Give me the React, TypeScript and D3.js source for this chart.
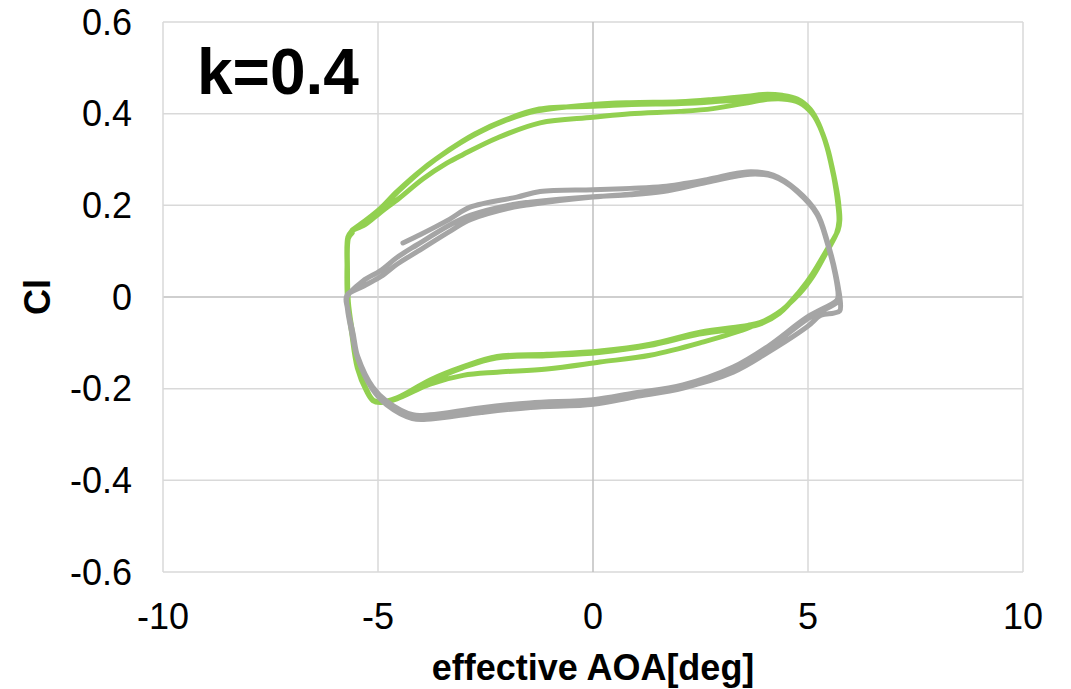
import React from "react";
import * as d3 from "d3";

// Axis setup
const xTicks = [-10, -5, 0, 5, 10];
const yTicks = [-0.6, -0.4, -0.2, 0, 0.2, 0.4, 0.6];
const xTickLabels = ["-10", "-5", "0", "5", "10"];
const yTickLabels = ["-0.6", "-0.4", "-0.2", "0", "0.2", "0.4", "0.6"];

// Green series: three recorded cycles [effective AOA, Cl]
const greenCycle1: [number, number][] = [
  [-5.6, 0.146], [-5.35, 0.163], [-4.95, 0.193], [-4.56, 0.23], [-3.95, 0.28],
  [-3.4, 0.317], [-2.79, 0.352], [-2.09, 0.383], [-1.3, 0.406], [0, 0.42],
  [0.86, 0.424], [2.02, 0.426], [2.79, 0.431], [3.6, 0.438], [3.95, 0.442],
  [4.4, 0.44], [4.75, 0.432], [5.05, 0.41], [5.25, 0.378], [5.44, 0.327],
  [5.58, 0.271], [5.7, 0.212], [5.74, 0.168], [5.7, 0.146], [5.44, 0.103],
  [5.12, 0.052], [4.81, 0.013], [4.35, -0.033], [3.88, -0.056], [3.6, -0.062],
  [2.49, -0.077], [1.33, -0.103], [0.16, -0.118], [-1.07, -0.125], [-2.23, -0.13],
  [-3.02, -0.152], [-3.79, -0.181], [-4.56, -0.22], [-4.95, -0.229], [-5.12, -0.225],
  [-5.26, -0.203], [-5.47, -0.153], [-5.6, -0.079], [-5.7, -0.007], [-5.72, 0.065],
  [-5.7, 0.131], [-5.62, 0.143],
];
const greenCycle2: [number, number][] = [
  [-5.55, 0.148], [-5.3, 0.165], [-4.9, 0.196], [-4.5, 0.233], [-3.9, 0.283],
  [-3.35, 0.321], [-2.75, 0.356], [-2.05, 0.386], [-1.25, 0.41], [0, 0.416],
  [0.9, 0.42], [2.05, 0.422], [2.8, 0.426], [3.6, 0.432], [3.9, 0.437],
  [4.4, 0.435], [4.78, 0.427], [5.08, 0.404], [5.27, 0.372], [5.46, 0.322],
  [5.6, 0.266], [5.71, 0.207], [5.73, 0.166], [5.68, 0.142], [5.42, 0.1],
  [5.1, 0.05], [4.8, 0.011], [4.33, -0.036], [3.86, -0.06], [3.58, -0.066],
  [2.47, -0.081], [1.3, -0.106], [0.14, -0.121], [-1.1, -0.128], [-2.25, -0.133],
  [-3.05, -0.155], [-3.8, -0.184], [-4.56, -0.221], [-4.93, -0.23], [-5.1, -0.226],
  [-5.25, -0.206], [-5.46, -0.156], [-5.59, -0.08], [-5.69, -0.01], [-5.71, 0.062],
  [-5.69, 0.128], [-5.6, 0.145],
];
const greenCycle3: [number, number][] = [
  [-5.58, 0.146], [-5.3, 0.158], [-4.95, 0.184], [-4.5, 0.216], [-3.95, 0.258],
  [-3.4, 0.292], [-3.02, 0.311], [-2.23, 0.347], [-1.23, 0.38], [0, 0.392],
  [0.86, 0.4], [2.02, 0.405], [2.79, 0.411], [3.6, 0.424], [3.95, 0.43],
  [4.4, 0.432], [4.8, 0.424], [5.1, 0.4], [5.3, 0.366], [5.48, 0.316],
  [5.6, 0.262], [5.69, 0.206], [5.72, 0.165], [5.66, 0.138], [5.42, 0.096],
  [5.12, 0.046], [4.81, 0.008], [4.28, -0.036], [3.65, -0.066], [2.49, -0.1],
  [1.33, -0.127], [0.16, -0.142], [-1.07, -0.157], [-2.23, -0.164], [-3.02, -0.171],
  [-3.79, -0.19], [-4.56, -0.222], [-4.95, -0.23], [-5.12, -0.226], [-5.27, -0.205],
  [-5.48, -0.155], [-5.61, -0.08], [-5.71, -0.005], [-5.72, 0.07], [-5.69, 0.128],
  [-5.6, 0.14],
];

// Gray series: three recorded cycles [effective AOA, Cl]
const grayCycle1: [number, number][] = [
  [-4.42, 0.118], [-4.0, 0.137], [-3.33, 0.17], [-2.86, 0.196], [-1.77, 0.218],
  [-1.23, 0.23], [0, 0.234], [0.86, 0.237], [1.63, 0.241], [2.65, 0.256],
  [3.58, 0.273], [4.19, 0.266], [4.74, 0.233], [5.21, 0.183], [5.44, 0.124],
  [5.63, 0.052], [5.74, 0.0], [5.74, -0.03], [5.6, -0.035], [5.3, -0.04],
  [4.98, -0.065], [4.05, -0.122], [3.26, -0.164], [2.09, -0.198], [0.93, -0.216],
  [0, -0.231], [-1.47, -0.238], [-2.63, -0.249], [-3.79, -0.263], [-4.19, -0.263],
  [-4.79, -0.233], [-5.12, -0.2], [-5.47, -0.131], [-5.58, -0.079], [-5.7, -0.028],
  [-5.72, 0.0],
];
const grayCycle2: [number, number][] = [
  [-5.35, 0.035], [-4.95, 0.057], [-4.56, 0.086], [-4.09, 0.114], [-3.33, 0.157],
  [-2.86, 0.178], [-1.86, 0.202], [-1.47, 0.207], [0, 0.219], [0.86, 0.223],
  [1.63, 0.23], [2.65, 0.25], [3.65, 0.268], [4.19, 0.263], [4.74, 0.231],
  [5.21, 0.18], [5.44, 0.12], [5.63, 0.05], [5.7, 0.002], [5.67, -0.007],
  [4.98, -0.044], [4.05, -0.109], [3.26, -0.153], [2.09, -0.192], [0.93, -0.21],
  [0, -0.224], [-1.47, -0.231], [-2.63, -0.242], [-3.79, -0.257], [-4.19, -0.257],
  [-4.79, -0.228], [-5.12, -0.197], [-5.47, -0.13], [-5.6, -0.077], [-5.71, -0.025],
  [-5.73, 0.002],
];
const grayCycle3: [number, number][] = [
  [-5.33, 0.024], [-4.93, 0.045], [-4.55, 0.072], [-4.07, 0.1], [-3.3, 0.145],
  [-2.84, 0.169], [-1.84, 0.196], [-1.45, 0.202], [0, 0.218], [0.9, 0.225],
  [1.65, 0.232], [2.67, 0.252], [3.7, 0.27], [4.22, 0.264], [4.76, 0.229],
  [5.23, 0.178], [5.46, 0.118], [5.65, 0.048], [5.73, -0.002], [5.7, -0.01],
  [5.0, -0.047], [4.07, -0.113], [3.28, -0.158], [2.1, -0.199], [0.95, -0.218],
  [0.02, -0.234], [-1.45, -0.241], [-2.6, -0.252], [-3.77, -0.266], [-4.2, -0.265],
  [-4.8, -0.235], [-5.14, -0.2], [-5.48, -0.132], [-5.61, -0.078], [-5.71, -0.026],
  [-5.72, 0.004], [-5.4, 0.022],
];

const greenSeries = [...greenCycle1, ...greenCycle2, ...greenCycle3];
const graySeries = [...grayCycle1, ...grayCycle2, ...grayCycle3];

const W = 1071;
const H = 689;
const plot = { left: 163, right: 1023, top: 22, bottom: 572 };

export default function App() {
  const x = d3.scaleLinear().domain([-10, 10]).range([plot.left, plot.right]);
  const y = d3.scaleLinear().domain([-0.6, 0.6]).range([plot.bottom, plot.top]);
  const line = d3
    .line<[number, number]>()
    .x((d) => x(d[0]))
    .y((d) => y(d[1]))
    .curve(d3.curveCatmullRom.alpha(0.5));

  const font = "'Liberation Sans', Arial, sans-serif";

  return (
    <div style={{ position: "fixed", left: 0, top: 0 }}>
      <svg width={W} height={H} style={{ display: "block", background: "#fff" }}>
        {/* gridlines */}
        {yTicks.map((t) => (
          <line
            key={"gy" + t}
            x1={plot.left}
            x2={plot.right}
            y1={y(t)}
            y2={y(t)}
            stroke={t === 0 ? "#bfbfbf" : "#d9d9d9"}
            strokeWidth={1.5}
          />
        ))}
        {xTicks.map((t) => (
          <line
            key={"gx" + t}
            x1={x(t)}
            x2={x(t)}
            y1={plot.top}
            y2={plot.bottom}
            stroke={t === 0 ? "#bfbfbf" : "#d9d9d9"}
            strokeWidth={1.5}
          />
        ))}

        {/* series */}
        <path d={line(greenSeries) || ""} fill="none" stroke="#92d050" strokeWidth={5} strokeLinejoin="round" strokeLinecap="round" />
        <path d={line(graySeries) || ""} fill="none" stroke="#a5a5a5" strokeWidth={5} strokeLinejoin="round" strokeLinecap="round" />

        {/* tick labels */}
        {yTicks.map((t, i) => (
          <text key={"ly" + t} x={132} y={y(t) + 12.5} textAnchor="end" fontFamily={font} fontSize={36} fill="#000">
            {yTickLabels[i]}
          </text>
        ))}
        {xTicks.map((t, i) => (
          <text key={"lx" + t} x={x(t)} y={629} textAnchor="middle" fontFamily={font} fontSize={36} fill="#000">
            {xTickLabels[i]}
          </text>
        ))}

        {/* axis titles */}
        <text x={593} y={680} textAnchor="middle" fontFamily={font} fontSize={36} fontWeight="bold" fill="#000">
          effective AOA[deg]
        </text>
        <text transform="translate(50,297) rotate(-90)" textAnchor="middle" fontFamily={font} fontSize={36} fontWeight="bold" fill="#000">
          Cl
        </text>

        {/* annotation */}
        <text x={197} y={94} fontFamily={font} fontSize={64} fontWeight="bold" fill="#000">
          k=0.4
        </text>
      </svg>
    </div>
  );
}
